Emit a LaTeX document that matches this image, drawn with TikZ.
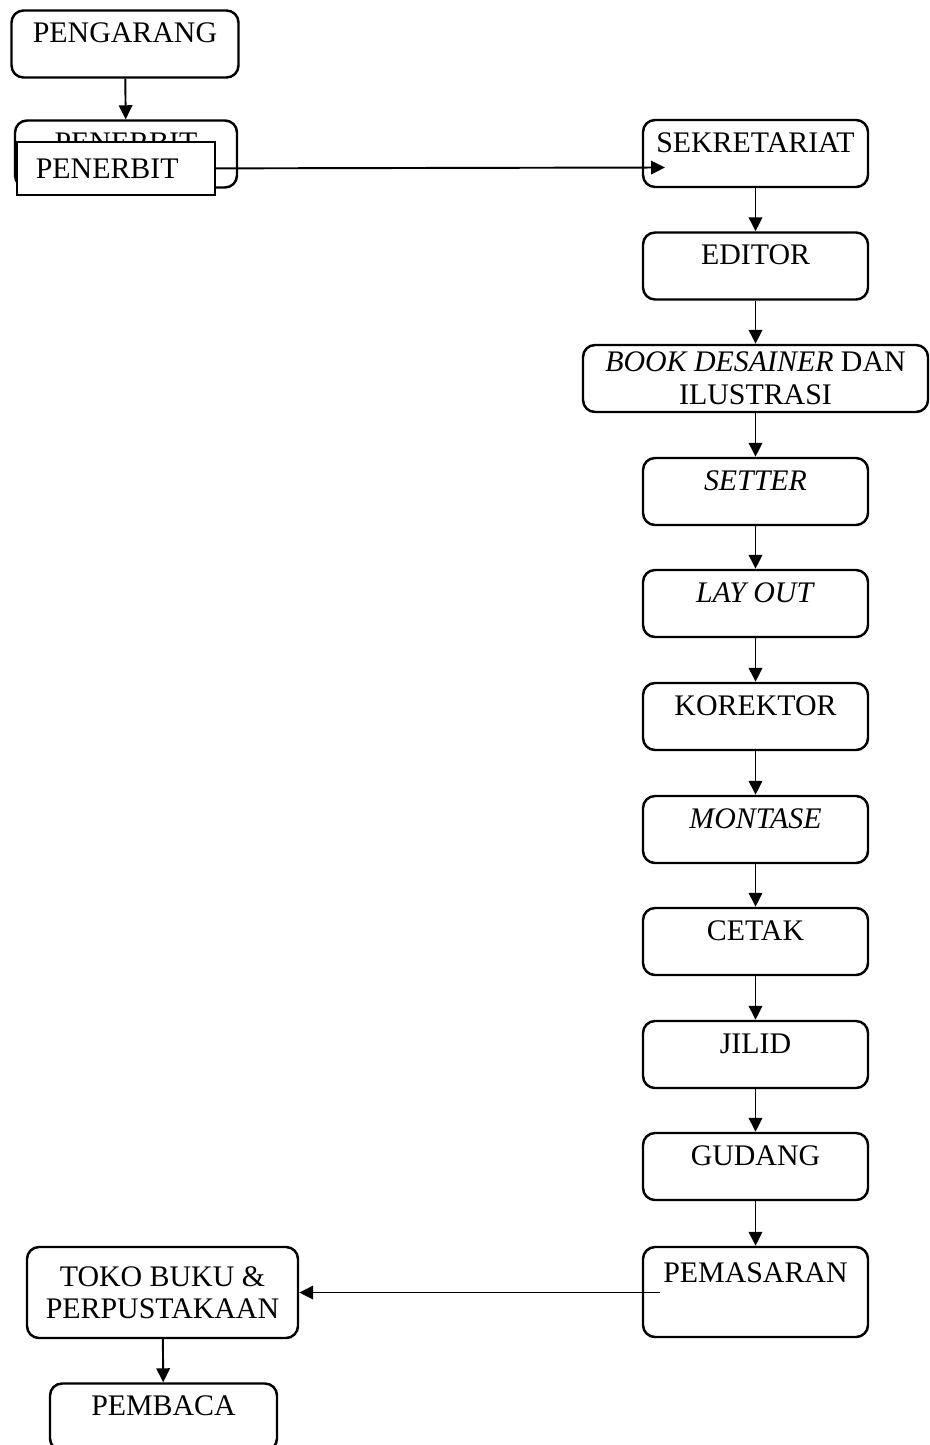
\documentclass[tikz,border=0pt]{standalone}
\usepackage{fontspec}
\setmainfont{Liberation Serif}
\usetikzlibrary{arrows.meta}
\tikzset{Panah/.style={-{Triangle[length=0.28cm, width=0.27cm]}, line width=1.1pt}}

\begin{document}
\begin{tikzpicture}[font=\fontsize{17}{18.5}\selectfont,
    Proses/.style={draw=black, rounded corners=0.24cm, line width=1.4pt, inner sep=0pt, minimum width=4.5cm, minimum height=1.34cm, align=center},
    Satu/.style={Proses, text height=0.64cm, text depth=0.70cm}]
        % \draw[help lines, gray] (0,0) grid (18,-28);
        \useasboundingbox (0,0) rectangle (18.6,-28.9);
        \node[Satu, minimum width=4.54cm] (Pg) at (2.5,-0.88){PENGARANG};
        \node[Satu, minimum width=4.44cm, minimum height=1.32cm] (Pb) at (2.52,-3.08){PENERBIT};
        \node[draw=black, fill=white, line width=1pt, anchor=north west, inner sep=0pt, inner xsep=0.38cm, text width=3.2cm, minimum height=1.06cm, align=left] (PbD) at (0.32,-2.82){PENERBIT};
        \coordinate (SkIn) at (13.3,-3.35);
        \node[Satu] (Sk) at (15.11,-3.07){SEKRETARIAT};
        \node[Satu] (Ed) at (15.11,-5.32){EDITOR};
        \node[Proses, minimum width=6.9cm] (Bd) at (15.11,-7.57){\textit{BOOK DESAINER} DAN\\ILUSTRASI};
        \node[Satu] (St) at (15.11,-9.83){\textit{SETTER}};
        \node[Satu] (Lo) at (15.11,-12.07){\textit{LAY OUT}};
        \node[Satu] (Ko) at (15.11,-14.33){KOREKTOR};
        \node[Satu] (Mo) at (15.11,-16.59){\textit{MONTASE}};
        \node[Satu] (Ce) at (15.11,-18.83){CETAK};
        \node[Satu] (Ji) at (15.11,-21.09){JILID};
        \node[Satu] (Gu) at (15.11,-23.33){GUDANG};
        \node[Proses, minimum height=1.8cm, text height=0.7cm, text depth=1.1cm] (Pm) at (15.11,-25.84){PEMASARAN};
        \coordinate (PmOut) at (13.2,-25.85);
        \node[Proses, minimum width=5.42cm, minimum height=1.82cm] (Tk) at (3.25,-25.85){TOKO BUKU \&\\PERPUSTAKAAN};
        \node[Satu, minimum width=4.54cm] (Pc) at (3.27,-28.34){PEMBACA};

        \draw[Panah] (Pg) -- (Pb);
        \draw[Panah] (PbD.east) -- (SkIn);
        \draw[Panah] (Sk) -- (Ed);
        \draw[Panah] (Ed) -- (Bd);
        \draw[Panah] (Bd) -- (St);
        \draw[Panah] (St) -- (Lo);
        \draw[Panah] (Lo) -- (Ko);
        \draw[Panah] (Ko) -- (Mo);
        \draw[Panah] (Mo) -- (Ce);
        \draw[Panah] (Ce) -- (Ji);
        \draw[Panah] (Ji) -- (Gu);
        \draw[Panah] (Gu) -- (Pm);
        \draw[Panah] (PmOut) -- (Tk.east);
        \draw[Panah] (Tk) -- (Pc);

    \end{tikzpicture}
\end{document}
